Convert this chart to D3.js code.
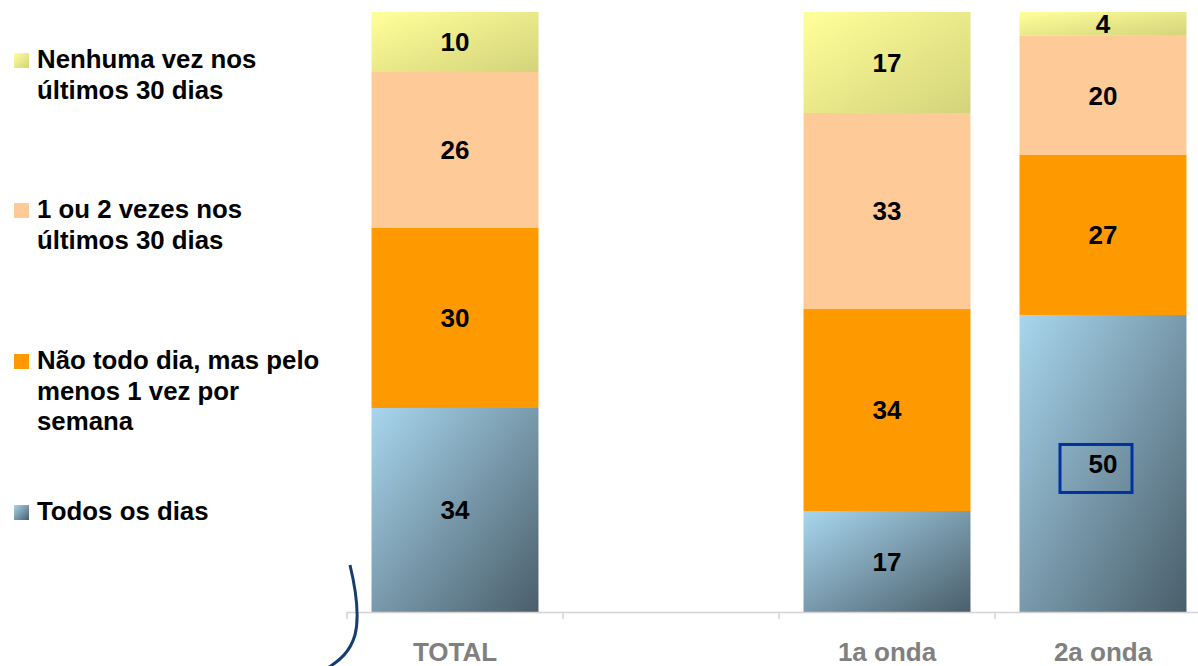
<!DOCTYPE html>
<html>
<head>
<meta charset="utf-8">
<script src="https://d3js.org/d3.v7.min.js"></script>
<style>
body { margin: 0; background: #fff; }
text { font-family: "Liberation Sans", Arial, sans-serif; font-weight: bold; }
.value { font-size: 26px; fill: #000; }
.cat { font-size: 26px; fill: #808080; }
.legend { font-size: 25.8px; fill: #000; }
</style>
</head>
<body>
<svg id="chart"></svg>
<script>
// data
var categories = ["TOTAL", "", "1a onda", "2a onda"];
var catLabels = ["TOTAL", "", "1a onda", "2a onda"];
var seriesNames = ["Todos os dias", "Não todo dia, mas pelo menos 1 vez por semana",
                   "1 ou 2 vezes nos últimos 30 dias", "Nenhuma vez nos últimos 30 dias"];
var todosOsDias = [34, null, 17, 50];
var naoTodoDia = [30, null, 34, 27];
var umOuDois = [26, null, 33, 20];
var nenhumaVez = [10, null, 17, 4];
var legendLines = [
  ["Todos os dias"],
  ["Não todo dia, mas pelo", "menos 1 vez por", "semana"],
  ["1 ou 2 vezes nos", "últimos 30 dias"],
  ["Nenhuma vez nos", "últimos 30 dias"]
];

var width = 1198, height = 666;
var svg = d3.select("#chart").attr("width", width).attr("height", height);

var defs = svg.append("defs");
function grad(id, c1, c2) {
  var g = defs.append("linearGradient").attr("id", id)
      .attr("x1", 0).attr("y1", 0).attr("x2", 1).attr("y2", 1);
  g.append("stop").attr("offset", "0%").attr("stop-color", c1);
  g.append("stop").attr("offset", "100%").attr("stop-color", c2);
}
grad("gBlue", "#a8d6ee", "#4a5e6a");
grad("gYellow", "#ffff9a", "#d3d37a");
var fills = ["url(#gBlue)", "#ff9900", "#fecb98", "url(#gYellow)"];

var series = [todosOsDias, naoTodoDia, umOuDois, nenhumaVez];

var x = d3.scaleBand().domain(categories).range([347, 1211])
    .paddingInner(0.227).paddingOuter(0.1135);
var y = d3.scaleLinear().domain([0, 1]).range([612, 12]);

// build stacked rows (100% normalised)
var rows = [];
categories.forEach(function(c, i) {
  if (todosOsDias[i] == null) return;
  var total = 0;
  series.forEach(function(s) { total += s[i]; });
  var acc = 0;
  series.forEach(function(s, k) {
    rows.push({cat: c, k: k, v: s[i], y0: acc / total, y1: (acc + s[i]) / total});
    acc += s[i];
  });
});

var g = svg.append("g");
g.selectAll("rect.seg").data(rows).enter().append("rect")
  .attr("class", "seg")
  .attr("x", function(d) { return x(d.cat); })
  .attr("width", x.bandwidth())
  .attr("y", function(d) { return y(d.y1); })
  .attr("height", function(d) { return y(d.y0) - y(d.y1); })
  .attr("fill", function(d) { return fills[d.k]; });

g.selectAll("text.value").data(rows).enter().append("text")
  .attr("class", "value")
  .attr("x", function(d) { return x(d.cat) + x.bandwidth() / 2; })
  .attr("y", function(d) { return (y(d.y0) + y(d.y1)) / 2; })
  .attr("dy", "0.36em")
  .attr("text-anchor", "middle")
  .text(function(d) { return d.v; });

// axis line + ticks
var step = x.step();
svg.append("line").attr("x1", 347).attr("x2", width).attr("y1", 612.5).attr("y2", 612.5)
  .attr("stroke", "#d4d4d4").attr("stroke-width", 1.5);
d3.range(categories.length + 1).forEach(function(i) {
  var tx = 347 + i * step;
  svg.append("line").attr("x1", tx).attr("x2", tx).attr("y1", 612).attr("y2", 619)
    .attr("stroke", "#d4d4d4").attr("stroke-width", 1.5);
});

svg.selectAll("text.cat").data(categories).enter().append("text")
  .attr("class", "cat")
  .attr("x", function(d) { return x(d) + x.bandwidth() / 2; })
  .attr("y", 661)
  .attr("text-anchor", "middle")
  .text(function(d, i) { return catLabels[i]; });

// highlight box around 2a onda "Todos os dias"
var hl = rows.filter(function(d) { return d.cat === "2a onda" && d.k === 0; })[0];
var hx = x(hl.cat) + x.bandwidth() / 2 - 7, hy = (y(hl.y0) + y(hl.y1)) / 2 + 5;
svg.append("rect").attr("x", hx - 36).attr("y", hy - 24).attr("width", 72).attr("height", 48)
  .attr("fill", "none").attr("stroke", "#0033a0").attr("stroke-width", 3);

// hand-drawn bracket
svg.append("path")
  .attr("d", "M350,565 C356,590 360,615 355,635 C350,652 340,660 328,668")
  .attr("fill", "none").attr("stroke", "#163d6e").attr("stroke-width", 3);

// legend
var legendY = [520, 369, 218, 68];
var leg = svg.selectAll("g.leg").data(seriesNames).enter().append("g").attr("class", "leg");
leg.append("rect")
  .attr("x", 14).attr("width", 15).attr("height", 15)
  .attr("y", function(d, i) { return legendY[i] - 15; })
  .attr("fill", function(d, i) { return fills[i]; });
leg.each(function(d, i) {
  var t = d3.select(this).append("text").attr("class", "legend")
    .attr("x", 37).attr("y", legendY[i]);
  legendLines[i].forEach(function(line, j) {
    t.append("tspan").attr("x", 37).attr("dy", j === 0 ? 0 : 30.5).text(line);
  });
});
</script>
</body>
</html>
